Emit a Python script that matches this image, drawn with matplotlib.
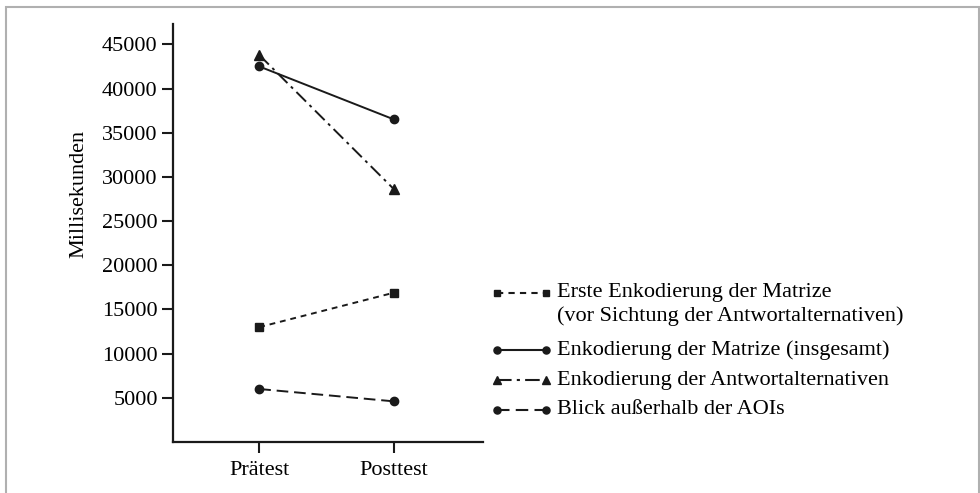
import matplotlib
matplotlib.use("Agg")
import matplotlib.pyplot as plt
from matplotlib.lines import Line2D
from matplotlib.patches import Rectangle

plt.rcParams["font.family"] = ["Liberation Serif", "DejaVu Serif"]

# Daten
zeitpunkte = ["Prätest", "Posttest"]
erste_enkodierung = [13000, 16900]
enkodierung_matrize = [42500, 36500]
enkodierung_antwort = [43800, 28600]
blick_ausserhalb = [6000, 4600]

labels = [
    ["Erste Enkodierung der Matrize", "(vor Sichtung der Antwortalternativen)"],
    ["Enkodierung der Matrize (insgesamt)"],
    ["Enkodierung der Antwortalternativen"],
    ["Blick außerhalb der AOIs"],
]
y_ticks = [5000, 10000, 15000, 20000, 25000, 30000, 35000, 40000, 45000]

fig = plt.figure(figsize=(9.8, 4.93), dpi=100)
ax = fig.add_axes([0.1765, 0.1034, 0.3163, 0.8479])

x = list(range(len(zeitpunkte)))
stile = [
    dict(linestyle=(0, (3, 2.5)), marker="s", markersize=5.5),
    dict(linestyle="-", marker="o", markersize=6),
    dict(linestyle=(0, (7, 2.5, 1.5, 2.5)), marker="^", markersize=6.5),
    dict(linestyle=(0, (6, 3)), marker="o", markersize=6),
]
reihen = [erste_enkodierung, enkodierung_matrize, enkodierung_antwort, blick_ausserhalb]
for werte, st in zip(reihen, stile):
    ax.plot(x, werte, color="#1a1a1a", linewidth=1.4, **st)

ax.set_xlim(-0.64, 1.66)
ax.set_ylim(0, 47300)
ax.set_xticks(x)
ax.set_xticklabels(zeitpunkte)
ax.set_yticks(y_ticks)
ax.set_ylabel("Millisekunden", fontsize=16)
ax.yaxis.set_label_coords(-0.272, 0.593)
ax.tick_params(labelsize=16, width=1.5, length=8, color="#1a1a1a", pad=3)
ax.tick_params(axis="x", pad=6)
for s in ["top", "right"]:
    ax.spines[s].set_visible(False)
for s in ["left", "bottom"]:
    ax.spines[s].set_linewidth(1.6)
    ax.spines[s].set_color("#1a1a1a")

# Legende von Hand (Handle auf Höhe der ersten Textzeile)
W, H = 980, 493
zeilen_y = [293, 350, 380, 410]
for yy, lab, st in zip(zeilen_y, labels, stile):
    fy = 1 - yy / H
    linie = Line2D([497 / W, 546 / W], [fy, fy], transform=fig.transFigure,
                   color="#1a1a1a", linewidth=1.5, linestyle=st["linestyle"],
                   marker=st["marker"], markersize=st["markersize"] * 0.85)
    fig.add_artist(linie)
    for i, zeile in enumerate(lab):
        fig.text(557 / W, fy - i * 23 / H, zeile, fontsize=16, va="center", ha="left")

# Rahmen
fig.add_artist(Rectangle((6 / W, -0.05), 973 / W, 1 - 7 / H + 0.05,
                         transform=fig.transFigure, fill=False,
                         edgecolor="#b0b0b0", linewidth=1.5))

fig.savefig("out.png", dpi=100)
